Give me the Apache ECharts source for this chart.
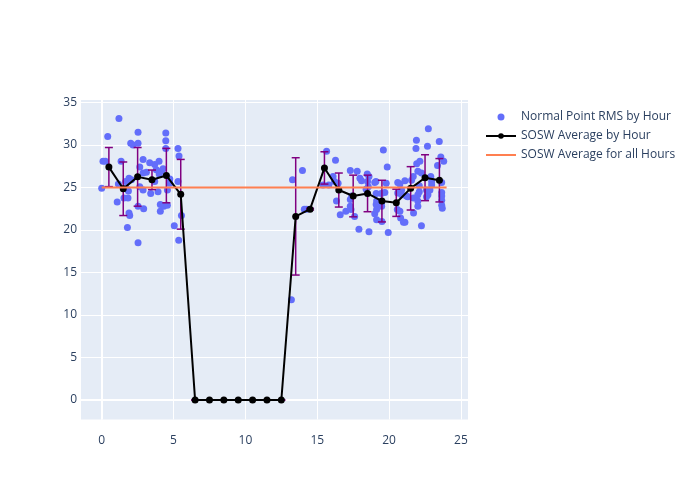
<!DOCTYPE html>
<html>
<head>
<meta charset="utf-8">
<script src="https://cdn.jsdelivr.net/npm/echarts@6/dist/echarts.min.js"></script>
<style>html,body{margin:0;padding:0;background:#fff}#c{width:700px;height:500px}</style>
</head>
<body>
<div id="c"></div>
<script>
// Scatter: normal point RMS by hour
var scatterHours = [0.0,0.09,0.26,0.42,1.08,1.16,1.2,1.35,1.55,1.67,1.72,1.79,1.83,1.86,1.9,1.9,1.95,2.02,2.07,2.18,2.53,2.53,2.53,2.53,2.65,2.65,2.88,2.88,2.88,2.92,3.11,3.34,3.41,3.69,3.69,3.8,3.92,3.99,4.08,4.08,4.15,4.0,4.27,4.32,4.46,4.46,4.46,4.57,4.57,4.74,4.74,5.05,5.31,5.38,5.31,5.36,5.55,
  13.28,13.2,13.97,14.1,14.25,15.4,15.65,15.8,16.1,16.27,16.2,16.34,16.45,16.6,16.99,17.3,17.3,17.35,17.3,17.4,17.6,17.78,17.9,17.97,18.08,18.48,18.6,18.5,18.55,18.6,18.4,
  19.0,19.08,19.13,19.0,19.1,19.13,19.13,19.1,19.45,19.48,19.48,19.5,19.6,19.7,19.8,19.87,19.94,20.57,20.6,20.6,20.75,20.75,20.8,20.87,20.87,21.0,21.1,21.1,21.2,21.3,21.56,21.68,21.7,21.7,21.87,21.9,21.92,22.0,22.0,22.0,22.0,22.1,22.1,22.14,22.25,22.25,22.6,22.67,22.7,22.6,22.73,22.84,22.96,22.96,22.9,23.37,23.49,23.6,23.66,23.66,23.66,23.66,23.66,23.7,23.8];
var scatterValues = [24.9,28.1,28.1,31.0,23.3,25.4,33.1,28.1,23.75,25.7,24.9,20.3,23.75,24.6,26.1,22.0,21.7,30.2,25.9,30.0,31.5,30.2,22.8,18.5,27.4,25.1,28.3,26.7,24.7,22.5,26.8,27.9,24.3,27.7,25.7,27.1,24.5,28.1,23.0,22.2,26.9,26.6,27.2,22.8,31.4,30.5,29.6,24.7,22.9,26.0,25.5,20.5,29.6,28.7,25.7,18.8,21.7,
  25.9,11.8,27.0,22.45,22.45,25.3,29.25,25.3,26.3,28.2,25.7,23.4,25.5,21.8,22.2,27.0,22.8,22.4,23.6,24.0,21.6,26.9,20.1,26.1,25.8,26.6,26.3,25.7,25.1,19.8,24.8,
  25.6,25.7,21.2,21.9,23.0,23.4,22.4,24.3,24.3,23.25,22.8,21.0,29.4,24.4,25.5,27.4,19.7,22.4,25.6,24.35,25.4,22.2,21.4,24.7,24.15,20.9,20.9,25.8,24.0,23.9,25.85,26.3,23.75,22.0,29.6,30.55,27.8,26.9,24.15,22.8,23.4,25.2,24.5,28.1,26.7,20.5,24.7,29.85,24.15,23.9,31.9,24.7,25.7,25.3,26.3,27.6,30.4,28.6,25.6,24.4,24.0,23.5,22.9,22.55,28.1];

// Hourly averages and standard deviations
var avgHours = [0.5,1.5,2.5,3.5,4.5,5.5,6.5,7.5,8.5,9.5,10.5,11.5,12.5,13.5,14.5,15.5,16.5,17.5,18.5,19.5,20.5,21.5,22.5,23.5];
var avgValues = [27.4,24.85,26.25,25.9,26.4,24.2,0,0,0,0,0,0,0,21.6,22.45,27.3,24.7,24.0,24.3,23.4,23.2,24.9,26.15,25.85];
var avgStd = [2.3,3.15,3.45,1.15,3.2,4.1,0,0,0,0,0,0,0,6.9,0.1,1.9,2.0,2.45,2.15,2.45,1.6,2.55,2.7,2.55];

// Overall average
var overallHours = [0, 24];
var overallAvg = 25.0;

var xTicks = [0,5,10,15,20,25];
var yTicks = [0,5,10,15,20,25,30,35];

var labelColor = '#2a3f5f';
var font = '"Open Sans", "Noto Sans", sans-serif';

var chart = echarts.init(document.getElementById('c'), null, {renderer:'canvas'});
var scatterData = scatterHours.map(function(h,i){return [h, scatterValues[i]];});
var avgData = avgHours.map(function(h,i){return [h, avgValues[i]];});
var errData = avgHours.map(function(h,i){return [h, avgValues[i], avgStd[i]];});
var overallData = overallHours.map(function(h){return [h, overallAvg];});

chart.setOption({
  animation:false,
  backgroundColor:'#fff',
  textStyle:{fontFamily:font},
  grid:{left:81,right:232,top:100,bottom:80.5,show:true,backgroundColor:'#e5ecf6',borderWidth:0},
  legend:{
    orient:'vertical', left:480, top:106, itemWidth:30, itemHeight:7, itemGap:7,
    textStyle:{color:labelColor,fontSize:12,fontFamily:font},
    data:[
      'Normal Point RMS by Hour',
      'SOSW Average by Hour',
      {name:'SOSW Average for all Hours', itemStyle:{opacity:0}}
    ]
  },
  xAxis:{
    type:'value', min:-1.44, max:25.49,
    axisLine:{show:false}, axisTick:{show:false, customValues:xTicks},
    axisLabel:{customValues:xTicks, color:labelColor, fontSize:12, margin:15, fontFamily:font},
    splitLine:{show:true, lineStyle:{color:'#ffffff', width:1}}
  },
  yAxis:{
    type:'value', min:-2.29, max:35.29,
    axisLine:{show:false}, axisTick:{show:false, customValues:yTicks},
    axisLabel:{customValues:yTicks, color:labelColor, fontSize:12, margin:4, fontFamily:font},
    splitLine:{show:true, lineStyle:{color:'#ffffff', width:1}}
  },
  series:[
    {
      name:'zero', type:'line', data:[], z:1, silent:true,
      markLine:{silent:true, z:1, symbol:'none', label:{show:false}, animation:false,
        lineStyle:{color:'#ffffff', width:2, type:'solid'},
        data:[{xAxis:0},{yAxis:0}]}
    },
    {
      name:'Normal Point RMS by Hour', type:'scatter', data:scatterData, z:2,
      symbol:'circle', symbolSize:7, itemStyle:{color:'#636efa', opacity:1}
    },
    {
      name:'errbars', type:'custom', data:errData, z:3, silent:true,
      encode:{x:0,y:1},
      renderItem:function(params, api){
        var x = api.value(0), m = api.value(1), s = api.value(2);
        var top = api.coord([x, m + s]);
        var bot = api.coord([x, m - s]);
        var w = 4;
        var st = {stroke:'#800080', lineWidth:1.5};
        return {type:'group', children:[
          {type:'line', shape:{x1:top[0],y1:top[1],x2:bot[0],y2:bot[1]}, style:st},
          {type:'line', shape:{x1:top[0]-w,y1:top[1],x2:top[0]+w,y2:top[1]}, style:st},
          {type:'line', shape:{x1:bot[0]-w,y1:bot[1],x2:bot[0]+w,y2:bot[1]}, style:st}
        ]};
      }
    },
    {
      name:'SOSW Average by Hour', type:'line', data:avgData, z:4,
      symbol:'circle', symbolSize:7, showSymbol:true,
      lineStyle:{color:'#000000', width:2}, itemStyle:{color:'#000000'}
    },
    {
      name:'SOSW Average for all Hours', type:'line', data:overallData, z:5,
      symbol:'none', showSymbol:false,
      lineStyle:{color:'#ff7f50', width:2}, itemStyle:{color:'#ff7f50'}
    }
  ]
});
</script>
</body>
</html>
